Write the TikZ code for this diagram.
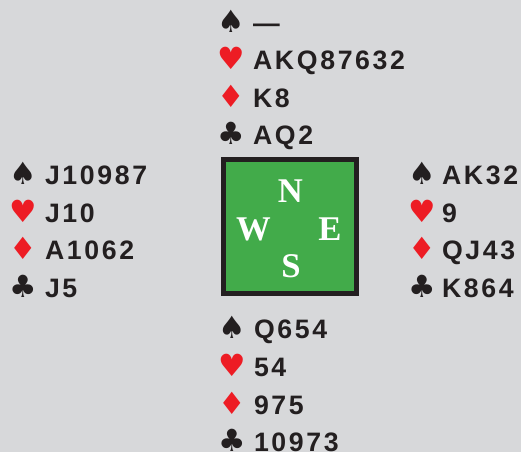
\documentclass[tikz,border=0pt]{standalone}
\usepackage{fontspec}
\newfontfamily\cardfont{Liberation Sans}[LetterSpace=10]
\newfontfamily\suitfont{DejaVu Sans}
\newfontfamily\seatfont{Liberation Serif}
\definecolor{bg}{HTML}{D7D8DA}
\definecolor{felt}{HTML}{42AB4A}
\definecolor{ink}{HTML}{231F20}
\definecolor{redsuit}{HTML}{ED1C24}
\tikzset{
  holding/.style={anchor=base west, inner sep=0pt, outer sep=0pt, text=ink,
    font=\cardfont\bfseries\fontsize{20}{24}\selectfont},
  blacksuit/.style={anchor=base, inner sep=0pt, outer sep=0pt, text=ink,
    font=\suitfont\fontsize{23}{26}\selectfont},
  redsuitsym/.style={blacksuit, text=redsuit},
  seat/.style={anchor=base, inner sep=0pt, outer sep=0pt, text=white,
    font=\seatfont\bfseries\fontsize{26}{29}\selectfont},
}
\begin{document}
\begin{tikzpicture}[x=0.75pt, y=-0.75pt]
\useasboundingbox (0,0) rectangle (521,452);
\fill[bg] (0,0) rectangle (521,452);
% table
\draw[ink, line width=3.75pt, fill=felt] (223.5,159.5) rectangle (356.5,293.5);
\node[seat] (seatN) at (290.5,203) {N};
\node[seat] (seatW) at (253.5,241) {W};
\node[seat] (seatE) at (330,241) {E};
\node[seat] (seatS) at (291,277.5) {S};
% North
\node[blacksuit] (nS) at (231,33) {♠};
\node[redsuitsym] (nH) at (231,70) {♥};
\node[redsuitsym] (nD) at (231,107.5) {♦};
\node[blacksuit] (nC) at (231,145) {♣};
\node[holding] (nSh) at (253,33) {—};
\node[holding] (nHh) at (253,70) {AKQ87632};
\node[holding] (nDh) at (253,107.5) {K8};
\node[holding] (nCh) at (253,145) {AQ2};
% West
\node[blacksuit] (wS) at (23,185) {♠};
\node[redsuitsym] (wH) at (23,222.5) {♥};
\node[redsuitsym] (wD) at (23,260) {♦};
\node[blacksuit] (wC) at (23,297.5) {♣};
\node[holding] (wSh) at (45,185) {J10987};
\node[holding] (wHh) at (45,222.5) {J10};
\node[holding] (wDh) at (45,260) {A1062};
\node[holding] (wCh) at (45,297.5) {J5};
% East
\node[blacksuit] (eS) at (422,185) {♠};
\node[redsuitsym] (eH) at (422,222.5) {♥};
\node[redsuitsym] (eD) at (422,260) {♦};
\node[blacksuit] (eC) at (422,297.5) {♣};
\node[holding] (eSh) at (442,185) {AK32};
\node[holding] (eHh) at (442,222.5) {9};
\node[holding] (eDh) at (442,260) {QJ43};
\node[holding] (eCh) at (442,297.5) {K864};
% South
\node[blacksuit] (sS) at (232,339) {♠};
\node[redsuitsym] (sH) at (232,376.5) {♥};
\node[redsuitsym] (sD) at (232,414) {♦};
\node[blacksuit] (sC) at (232,451.5) {♣};
\node[holding] (sSh) at (254,339) {Q654};
\node[holding] (sHh) at (254,376.5) {54};
\node[holding] (sDh) at (254,414) {975};
\node[holding] (sCh) at (254,451.5) {10973};
\end{tikzpicture}
\end{document}
